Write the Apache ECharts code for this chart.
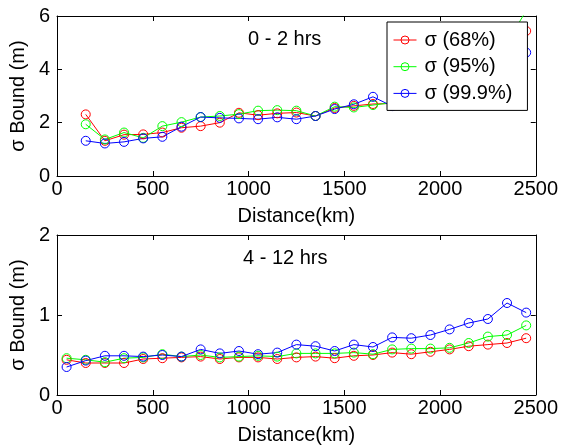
<!DOCTYPE html>
<html>
<head>
<meta charset="utf-8">
<script src="https://cdn.jsdelivr.net/npm/echarts@6/dist/echarts.min.js"></script>
<style>
html,body{margin:0;padding:0;background:#fff;}
#c{width:561px;height:447px;}
</style>
</head>
<body>
<div id="c"></div>
<script>
// ---- data ----
const distTop = [150,250,350,450,550,650,750,850,950,1050,1150,1250,1350,1450,1550,1650,1750,1850,1950,2050,2150,2250,2350,2450];
const topRed   = [2.31,1.32,1.55,1.56,1.63,1.81,1.87,2.00,2.37,2.28,2.35,2.38,2.25,2.55,2.63,2.70,2.72,3.00,3.30,3.60,4.00,4.50,4.90,5.44];
const topGreen = [1.94,1.37,1.63,1.43,1.87,2.02,2.21,2.25,2.32,2.45,2.47,2.45,2.25,2.60,2.57,2.66,2.75,3.00,3.40,3.80,4.20,4.60,5.00,6.20];
const topBlue  = [1.32,1.22,1.28,1.41,1.47,1.85,2.21,2.18,2.16,2.13,2.20,2.13,2.25,2.51,2.69,2.97,2.62,3.10,3.30,3.60,3.90,4.20,4.40,4.63];

const distBottom = [50,150,250,350,450,550,650,750,850,950,1050,1150,1250,1350,1450,1550,1650,1750,1850,1950,2050,2150,2250,2350,2450];
const botRed   = [0.44,0.40,0.40,0.40,0.45,0.46,0.47,0.48,0.45,0.47,0.47,0.45,0.47,0.48,0.46,0.49,0.50,0.53,0.51,0.54,0.57,0.61,0.63,0.65,0.71];
const botGreen = [0.46,0.44,0.41,0.46,0.47,0.51,0.48,0.50,0.47,0.48,0.49,0.48,0.52,0.52,0.52,0.53,0.51,0.57,0.58,0.58,0.59,0.65,0.73,0.75,0.87];
const botBlue  = [0.35,0.43,0.49,0.49,0.48,0.50,0.48,0.57,0.52,0.55,0.51,0.53,0.63,0.61,0.55,0.63,0.60,0.72,0.71,0.75,0.82,0.90,0.95,1.15,1.03];

const seriesNames = ['\u03c3 (68%)', '\u03c3 (95%)', '\u03c3 (99.9%)'];
const seriesColors = ['#ff0000', '#00ff00', '#0000ff'];
const xTicks = {min: 0, max: 2500, interval: 500};
const yTicksTop = {min: 0, max: 6, interval: 2};
const yTicksBottom = {min: 0, max: 2, interval: 1};
const panelTitles = ['0 - 2 hrs', '4 - 12 hrs'];
const xName = 'Distance(km)';
const yName = '\u03c3 Bound (m)';

// ---- chart ----
const FONT = '"Liberation Sans", Arial, Helvetica, sans-serif';
const chart = echarts.init(document.getElementById('c'), null, {renderer: 'canvas'});

function zip(xs, ys){ return xs.map((x,i)=>[x, ys[i]]); }
const plainFmt = v => String(v);

function mkX(gi, show){
  return {
    type:'value', gridIndex: gi, min: xTicks.min, max: xTicks.max, interval: xTicks.interval,
    position: show ? 'bottom' : 'top',
    name: show ? xName : '', nameLocation:'middle', nameGap: 30,
    nameTextStyle:{color:'#000', fontSize:20, fontFamily:FONT},
    axisLine:{show:true, onZero:false, lineStyle:{color:'#000', width:1}},
    axisTick:{show:true, inside:true, length:5, lineStyle:{color:'#000'}},
    axisLabel:{show:show, color:'#000', fontSize:20, fontFamily:FONT, margin:3, showMinLabel:true, showMaxLabel:true, formatter: plainFmt},
    splitLine:{show:false}
  };
}
function mkY(gi, t, show){
  return {
    type:'value', gridIndex: gi, min: t.min, max: t.max, interval: t.interval,
    position: show ? 'left' : 'right',
    name: show ? yName : '', nameLocation:'middle', nameGap: 18,
    nameTextStyle:{color:'#000', fontSize:20, fontFamily:FONT},
    axisLine:{show:true, onZero:false, lineStyle:{color:'#000', width:1}},
    axisTick:{show:true, inside:true, length:5, lineStyle:{color:'#000'}},
    axisLabel:{show:show, color:'#000', fontSize:20, fontFamily:FONT, margin:7, showMinLabel:true, showMaxLabel:true, formatter: plainFmt},
    splitLine:{show:false}
  };
}
function mkSeries(name, color, data, xi, yi){
  return {
    name: name, type:'line', xAxisIndex: xi, yAxisIndex: yi,
    data: data, symbol:'circle', symbolSize: 9,
    lineStyle:{color: color, width:1},
    itemStyle:{color: 'rgba(255,255,255,0)', borderColor: color, borderWidth:1},
    emphasis:{disabled:true}, animation:false, clip:true
  };
}

const topData = [topRed, topGreen, topBlue];
const botData = [botRed, botGreen, botBlue];
const series = [];
for (let i=0;i<3;i++) series.push(mkSeries(seriesNames[i], seriesColors[i], zip(distTop, topData[i]), 0, 0));
for (let i=0;i<3;i++) series.push(mkSeries(seriesNames[i], seriesColors[i], zip(distBottom, botData[i]), 2, 2));

chart.setOption({
  backgroundColor:'#fff',
  animation:false,
  grid:[
    {left:52, top:16, width:484, height:160},
    {left:52, top:235, width:484, height:160}
  ],
  xAxis:[ mkX(0,true), mkX(0,false), mkX(1,true), mkX(1,false) ],
  yAxis:[ mkY(0,yTicksTop,true), mkY(0,yTicksTop,false), mkY(1,yTicksBottom,true), mkY(1,yTicksBottom,false) ],
  legend:{
    data: seriesNames,
    orient:'vertical', left:387, top:22,
    padding:[8,15,7,6], itemGap:6.7, itemWidth:23, itemHeight:10,
    itemStyle:{borderWidth:1},
    lineStyle:{width:1},
    backgroundColor:'#fff', borderColor:'#000', borderWidth:1, borderRadius:0,
    textStyle:{color:'#000', fontSize:20, fontFamily:FONT, padding:[0,0,0,3]},
    selectedMode:false, z:10
  },
  graphic:[
    {type:'text', left:248, top:29, style:{text:panelTitles[0], fill:'#000', font:'20px ' + FONT}},
    {type:'text', left:243, top:248, style:{text:panelTitles[1], fill:'#000', font:'20px ' + FONT}}
  ],
  series: series
});
</script>
</body>
</html>
